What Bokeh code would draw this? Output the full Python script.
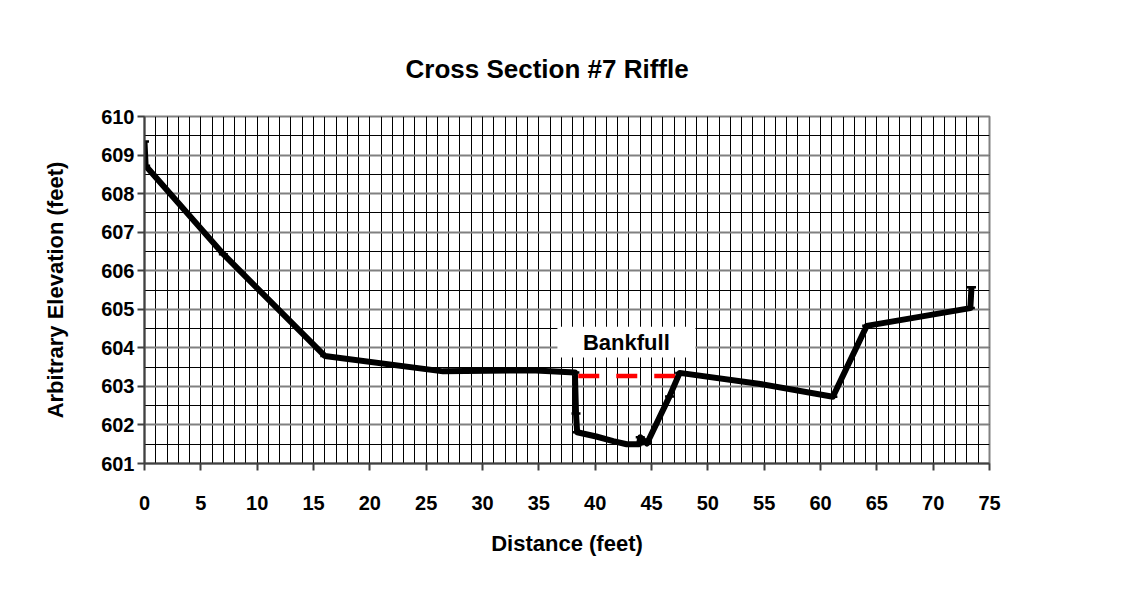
from bokeh.plotting import figure
from bokeh.models import FixedTicker, Label, BoxAnnotation, Range1d
from bokeh.embed import file_html
from bokeh.resources import INLINE

# ---- data ----
distance = [0.0, 0.1, 7.0, 16.0, 26.5, 34.3, 38.2, 38.3, 38.4, 40.1, 41.6,
            42.8, 43.9, 44.0, 44.6, 46.6, 47.5, 54.5, 61.1, 64.1, 73.3, 73.4]
elevation = [609.35, 608.72, 606.43, 603.79, 603.39, 603.42, 603.36, 602.30,
             601.81, 601.70, 601.58, 601.50, 601.50, 601.68, 601.52, 602.74,
             603.35, 603.07, 602.73, 604.57, 605.03, 605.57]
bankfull_x = [38.5, 47.3]
bankfull_y = [603.27, 603.27]
x_ticks = list(range(0, 80, 5))
y_ticks = list(range(601, 611))

title_text = "Cross Section #7 Riffle"
x_label = "Distance (feet)"
y_label = "Arbitrary Elevation (feet)"

FONT = "Liberation Sans"

p = figure(width=1114, height=578, frame_width=845, frame_height=347,
           min_border_left=144, min_border_top=116, min_border_right=125,
           min_border_bottom=115,
           x_range=Range1d(0, 75), y_range=Range1d(601, 610),
           output_backend="svg", toolbar_location=None)

p.background_fill_color = "white"
p.border_fill_color = "white"
p.outline_line_color = "#808080"
p.outline_line_width = 2

# title
p.title.text = title_text
p.title.align = "left"
p.title.text_font = FONT
p.title.text_font_style = "bold"
p.title.text_font_size = "26px"
p.title.text_color = "black"
p.title.standoff = 66
p.title.offset = 261

# ticks / grids
xt = FixedTicker(ticks=x_ticks, minor_ticks=[i for i in range(0, 76)])
yt = FixedTicker(ticks=y_ticks, minor_ticks=[601 + 0.5 * i for i in range(19)])
p.xaxis.ticker = xt
p.yaxis.ticker = yt
p.xgrid.ticker = xt
p.ygrid.ticker = yt
p.xgrid.grid_line_color = "black"
p.xgrid.minor_grid_line_color = "black"
p.ygrid.grid_line_color = "#808080"
p.ygrid.grid_line_width = 2
p.ygrid.minor_grid_line_color = "black"
p.xgrid.grid_line_width = 1
p.xgrid.minor_grid_line_width = 1
p.ygrid.minor_grid_line_width = 1

for ax in (p.xaxis[0], p.yaxis[0]):
    ax.axis_line_color = "#404040"
    ax.axis_line_width = 2
    ax.major_tick_line_color = "#404040"
    ax.major_tick_line_width = 2
    ax.major_tick_out = 7
    ax.major_tick_in = 0
    ax.minor_tick_line_color = None
    ax.major_label_text_font = FONT
    ax.major_label_text_font_style = "bold"
    ax.major_label_text_font_size = "20px"
    ax.major_label_text_color = "black"
    ax.axis_label_text_font = FONT
    ax.axis_label_text_font_style = "bold"
    ax.axis_label_text_font_size = "22px"
    ax.axis_label_text_color = "black"

p.xaxis.axis_label = x_label
p.yaxis.axis_label = y_label
p.xaxis.major_label_standoff = 25
p.yaxis.major_label_standoff = 3
p.xaxis.axis_label_standoff = 18
p.yaxis.axis_label_standoff = 30

# data
p.line(bankfull_x, bankfull_y, line_color="#ff0000", line_width=4.5,
       line_dash="21 17")
p.line(distance, elevation, line_color="black", line_width=6,
       line_join="round")
p.scatter(distance, elevation, marker="dash", size=9, line_color="black",
          line_width=2.5)

# bankfull label box
p.add_layout(BoxAnnotation(left=36.65, right=48.9, bottom=603.75, top=604.55,
                           fill_color="white", fill_alpha=1.0,
                           line_color=None, level="overlay"))
p.add_layout(Label(x=42.77, y=604.15, text="Bankfull", text_font=FONT,
                   text_font_style="bold", text_font_size="22px",
                   text_align="center", text_baseline="middle",
                   text_color="black", level="overlay"))

open("out.html", "w").write(file_html(p, INLINE))
